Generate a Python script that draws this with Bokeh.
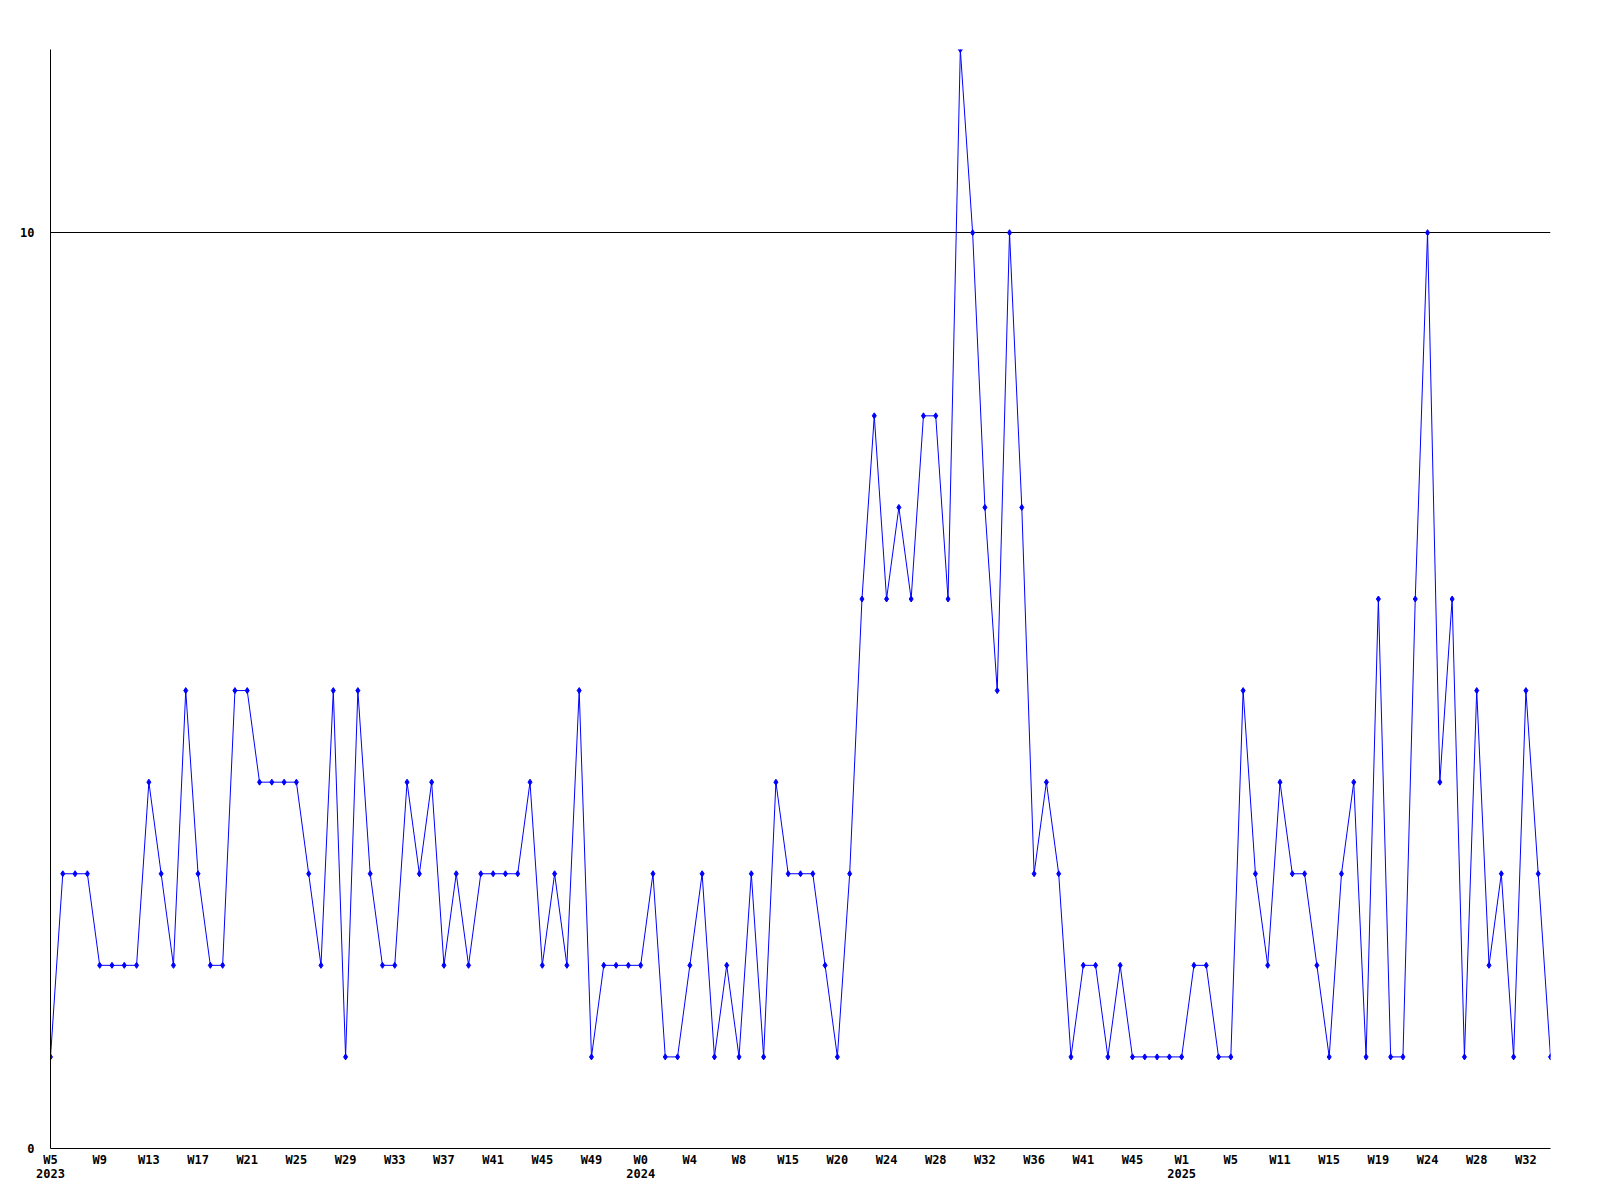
from bokeh.plotting import figure
from bokeh.models import Range1d, FixedTicker
from bokeh.embed import file_html
from bokeh.resources import INLINE

# Weekly counts, one per week, in order
values = [1, 3, 3, 3, 2, 2, 2, 2, 4, 3,
          2, 5, 3, 2, 2, 5, 5, 4, 4, 4,
          4, 3, 2, 5, 1, 5, 3, 2, 2, 4,
          3, 4, 2, 3, 2, 3, 3, 3, 3, 4,
          2, 3, 2, 5, 1, 2, 2, 2, 2, 3,
          1, 1, 2, 3, 1, 2, 1, 3, 1, 4,
          3, 3, 3, 2, 1, 3, 6, 8, 6, 7,
          6, 8, 8, 6, 12, 10, 7, 5, 10, 7,
          3, 4, 3, 1, 2, 2, 1, 2, 1, 1,
          1, 1, 1, 2, 2, 1, 1, 5, 3, 2,
          4, 3, 3, 2, 1, 3, 4, 1, 6, 1,
          1, 6, 10, 4, 6, 1, 5, 2, 3, 1,
          5, 3, 1]

# Tick labels shown every 4th week
week_labels = ["W5", "W9", "W13", "W17", "W21", "W25", "W29", "W33", "W37", "W41",
               "W45", "W49", "W0", "W4", "W8", "W15", "W20", "W24", "W28", "W32",
               "W36", "W41", "W45", "W1", "W5", "W11", "W15", "W19", "W24", "W28", "W32"]
year_labels = {0: "2023", 12: "2024", 23: "2025"}  # keyed by tick label order
label_step = 4

y_ticks = [0, 10]

x = list(range(len(values)))

p = figure(width=1584, height=1184, output_backend="svg", toolbar_location=None,
           x_range=Range1d(0, len(values) - 1), y_range=Range1d(0, 12),
           min_border_left=50, min_border_right=34, min_border_top=49, min_border_bottom=34)
p.outline_line_color = None
p.background_fill_color = "white"
p.border_fill_color = "white"

p.line(x, values, line_color="#0000ff", line_width=1)
p.scatter(x, values, marker="diamond", size=6, fill_color="#0000ff", line_color="#0000ff")

tick_pos = [i * label_step for i in range(len(week_labels))]
overrides = {}
for k, (pos, w) in enumerate(zip(tick_pos, week_labels)):
    overrides[pos] = w + ("\n" + year_labels[k] if k in year_labels else "")

p.xaxis.ticker = FixedTicker(ticks=tick_pos)
p.xaxis.major_label_overrides = overrides
p.yaxis.ticker = FixedTicker(ticks=y_ticks)
p.yaxis.major_label_overrides = {t: str(t) for t in y_ticks}

for ax in (p.xaxis[0], p.yaxis[0]):
    ax.axis_line_color = "black"
    ax.axis_line_width = 1
    ax.major_tick_line_color = None
    ax.minor_tick_line_color = None
    ax.major_tick_out = 0
    ax.major_tick_in = 0
    ax.major_label_text_font = "DejaVu Sans Mono"
    ax.major_label_text_font_style = "bold"
    ax.major_label_text_font_size = "12px"
    ax.major_label_text_color = "black"

p.xaxis.major_label_standoff = 4
p.xaxis.major_label_text_align = "center"
p.xaxis.major_label_text_line_height = 1.05
p.yaxis.major_label_standoff = 16

p.xgrid.grid_line_color = None
p.ygrid.ticker = FixedTicker(ticks=[10])
p.ygrid.grid_line_color = "black"
p.ygrid.grid_line_alpha = 1.0
p.ygrid.grid_line_width = 1

open("out.html", "w").write(file_html(p, INLINE))
